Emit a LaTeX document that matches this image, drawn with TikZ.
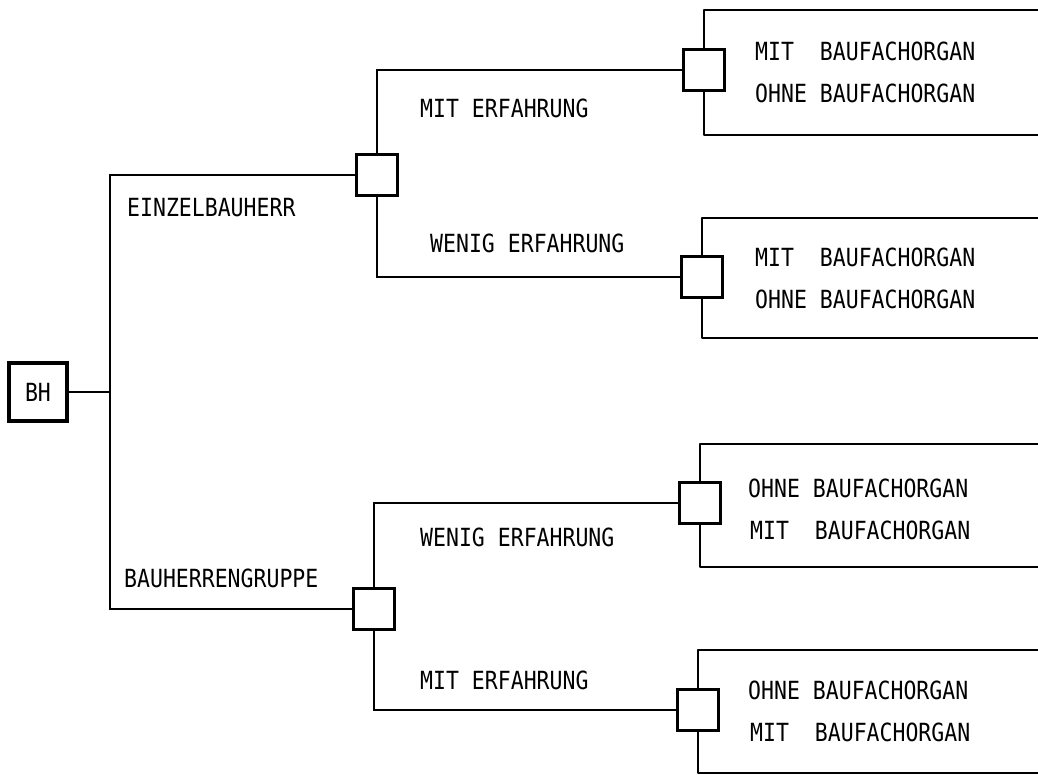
\documentclass[tikz,border=0pt]{standalone}
\usepackage{fontspec}
\newfontfamily\plotfont[FakeStretch=0.86]{DejaVu Sans Mono}
\begin{document}
\begin{tikzpicture}[x=1pt,y=-1pt,
  box/.style={draw, line width=3.2pt, minimum width=41pt, minimum height=41pt, fill=white, inner sep=0pt},
  wire/.style={line width=2.5pt},
  frame/.style={line width=2.6pt, line join=round},
  lbl/.style={font=\plotfont\fontsize{25pt}{30pt}\selectfont, anchor=west, inner sep=0pt}]
\useasboundingbox (0,0) rectangle (1038,775);
\clip (0,0) rectangle (1038,775);
% open frames of the leaves
\draw[frame] (1045,10) -- (704,10) -- (704,135) -- (1045,135);
\draw[frame] (1045,218) -- (702,218) -- (702,338) -- (1045,338);
\draw[frame] (1045,444) -- (700,444) -- (700,567) -- (1045,567);
\draw[frame] (1045,650) -- (698,650) -- (698,773) -- (1045,773);
% nodes
\node[box, minimum width=58pt, minimum height=58pt, font=\plotfont\fontsize{25pt}{30pt}\selectfont] (bh) at (38,392) {BH};
\node[box] (j1) at (377,175) {};
\node[box] (j2) at (374,609) {};
\node[box] (l1) at (704,70) {};
\node[box] (l2) at (702,277) {};
\node[box] (l3) at (700,503) {};
\node[box] (l4) at (698,710) {};
% connectors
\coordinate (t) at (110,392);
\draw[wire] (bh.east) -- (t);
\draw[wire] (t) |- (j1.west);
\draw[wire] (t) |- (j2.west);
\draw[wire] (j1.north) |- (l1.west);
\draw[wire] (j1.south) |- (l2.west);
\draw[wire] (j2.north) |- (l3.west);
\draw[wire] (j2.south) |- (l4.west);
% labels
\node[lbl] (e) at (127,208) {EINZELBAUHERR};
\node[lbl] (g) at (124,578) {BAUHERRENGRUPPE};
\node[lbl] (a1) at (420,108) {MIT ERFAHRUNG};
\node[lbl] (a2) at (430,243) {WENIG ERFAHRUNG};
\node[lbl] (a3) at (420,537) {WENIG ERFAHRUNG};
\node[lbl] (a4) at (420,680) {MIT ERFAHRUNG};
\node[lbl] (m1) at (755,51) {MIT\ \ BAUFACHORGAN};
\node[lbl] (o1) at (755,93) {OHNE BAUFACHORGAN};
\node[lbl] (m2) at (755,257) {MIT\ \ BAUFACHORGAN};
\node[lbl] (o2) at (755,299) {OHNE BAUFACHORGAN};
\node[lbl] (o3) at (748,488) {OHNE BAUFACHORGAN};
\node[lbl] (m3) at (750,530) {MIT\ \ BAUFACHORGAN};
\node[lbl] (o4) at (748,690) {OHNE BAUFACHORGAN};
\node[lbl] (m4) at (750,732) {MIT\ \ BAUFACHORGAN};
\end{tikzpicture}
\end{document}
